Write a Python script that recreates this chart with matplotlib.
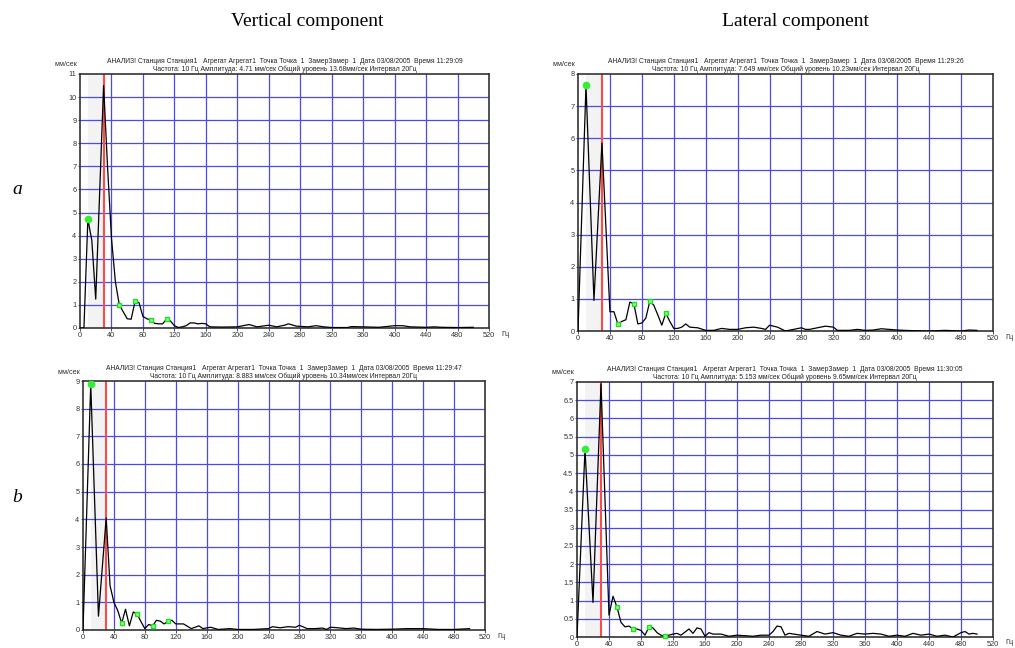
import matplotlib
matplotlib.use('Agg')
import matplotlib.pyplot as plt


# Header lines for each panel (top-left, top-right, bottom-left, bottom-right)
headers = [
    ('АНАЛИЗ! Станция Станция1   Агрегат Агрегат1  Точка Точка  1  ЗамерЗамер  1  Дата 03/08/2005  Время 11:29:09',
     'Частота: 10 Гц Амплитуда: 4.71 мм/сек Общий уровень 13.68мм/сек Интервал 20Гц'),
    ('АНАЛИЗ! Станция Станция1   Агрегат Агрегат1  Точка Точка  1  ЗамерЗамер  1  Дата 03/08/2005  Время 11:29:26',
     'Частота: 10 Гц Амплитуда: 7.649 мм/сек Общий уровень 10.23мм/сек Интервал 20Гц'),
    ('АНАЛИЗ! Станция Станция1   Агрегат Агрегат1  Точка Точка  1  ЗамерЗамер  1  Дата 03/08/2005  Время 11:29:47',
     'Частота: 10 Гц Амплитуда: 8.883 мм/сек Общий уровень 10.34мм/сек Интервал 20Гц'),
    ('АНАЛИЗ! Станция Станция1   Агрегат Агрегат1  Точка Точка  1  ЗамерЗамер  1  Дата 03/08/2005  Время 11:30:05',
     'Частота: 10 Гц Амплитуда: 5.153 мм/сек Общий уровень 9.65мм/сек Интервал 20Гц'),
]

# spectra: frequency (Hz) and amplitude (mm/s)
freq_a_vert = [0, 5, 10, 15, 20, 30, 35, 40, 45, 50, 55, 60, 65, 70, 75, 80, 85, 90, 95, 100,
               105, 110, 115, 120, 125, 130, 135, 140, 145, 150, 155, 160, 165, 180, 200, 215,
               225, 240, 250, 260, 265, 275, 290, 300, 310, 320, 340, 345, 360, 380, 400, 410,
               420, 440, 450, 460, 480, 500]
amp_a_vert = [0, 0, 4.71, 3.8, 1.25, 10.5, 7.0, 3.9, 2.0, 1.0, 0.7, 0.4, 0.38, 1.15, 1.1, 0.5,
              0.4, 0.35, 0.2, 0.18, 0.18, 0.38, 0.3, 0.1, 0.02, 0.05, 0.1, 0.22, 0.22, 0.18,
              0.2, 0.18, 0.05, 0.04, 0.05, 0.15, 0.05, 0.12, 0.05, 0.12, 0.18, 0.08, 0.05, 0.1,
              0.05, 0.02, 0.02, 0.06, 0.05, 0.03, 0.1, 0.1, 0.05, 0.03, 0.05, 0.03, 0.02, 0.03]

freq_a_lat = [0, 10, 20, 30, 40, 45, 50, 55, 60, 65, 70, 75, 80, 85, 90, 95, 100, 105, 110, 115,
              120, 125, 130, 135, 140, 150, 160, 170, 180, 190, 200, 210, 220, 230, 235, 240,
              245, 250, 260, 270, 280, 285, 290, 300, 310, 320, 325, 340, 350, 360, 370, 380,
              390, 400, 420, 440, 460, 480, 490, 500]
amp_a_lat = [0, 7.649, 0.95, 5.85, 0.6, 0.6, 0.22, 0.3, 0.35, 0.9, 0.85, 0.22, 0.25, 0.4, 0.93,
             0.8, 0.5, 0.18, 0.55, 0.3, 0.08, 0.08, 0.12, 0.22, 0.12, 0.1, 0.02, 0.02, 0.08,
             0.05, 0.05, 0.1, 0.12, 0.08, 0.05, 0.18, 0.15, 0.12, 0.0, 0.05, 0.1, 0.05, 0.05,
             0.1, 0.15, 0.12, 0.02, 0.02, 0.05, 0.02, 0.03, 0.07, 0.05, 0.03, 0.01, 0.0, 0.02,
             0.0, 0.03, 0.02]

freq_b_vert = [0, 10, 20, 30, 35, 40, 45, 50, 55, 60, 65, 70, 75, 80, 85, 90, 95, 100, 105, 110,
               115, 120, 130, 140, 150, 155, 165, 175, 190, 200, 220, 240, 245, 255, 265, 275,
               280, 290, 300, 310, 315, 320, 330, 340, 350, 360, 380, 400, 420, 440, 460, 480,
               500]
amp_b_vert = [0, 8.883, 0.5, 4.05, 1.6, 1.0, 0.7, 0.25, 0.75, 0.15, 0.65, 0.58, 0.3, 0.05, 0.2,
              0.15, 0.35, 0.32, 0.22, 0.32, 0.35, 0.22, 0.22, 0.05, 0.15, 0.05, 0.1, 0.02,
              0.05, 0.02, 0.02, 0.05, 0.12, 0.08, 0.12, 0.1, 0.17, 0.05, 0.05, 0.07, 0.02, 0.1,
              0.08, 0.05, 0.07, 0.03, 0.02, 0.03, 0.05, 0.05, 0.02, 0.02, 0.05]

freq_b_lat = [0, 10, 20, 30, 40, 45, 50, 55, 60, 65, 70, 75, 80, 85, 90, 95, 100, 105, 110, 115,
              120, 125, 130, 140, 145, 150, 155, 160, 165, 170, 180, 190, 200, 220, 230, 240,
              245, 250, 255, 260, 265, 280, 290, 300, 310, 320, 330, 340, 350, 360, 370, 380,
              390, 400, 410, 420, 430, 440, 450, 460, 470, 480, 485, 490, 495, 500]
amp_b_lat = [0, 5.153, 0.95, 6.95, 0.6, 1.12, 0.82, 0.4, 0.28, 0.3, 0.22, 0.22, 0.18, 0.05,
             0.28, 0.25, 0.12, 0.05, 0.02, 0.05, 0.08, 0.1, 0.05, 0.22, 0.1, 0.25, 0.22, 0.02,
             0.12, 0.08, 0.08, 0.02, 0.05, 0.02, 0.05, 0.05, 0.15, 0.3, 0.28, 0.05, 0.1, 0.05,
             0.02, 0.15, 0.08, 0.12, 0.05, 0.02, 0.1, 0.08, 0.1, 0.08, 0.02, 0.05, 0.02, 0.1,
             0.05, 0.08, 0.02, 0.05, 0.0, 0.12, 0.15, 0.08, 0.1, 0.08]

# marked harmonics (green squares) and main peak (green dot)
harm_freq = [50, 70, 90, 110]
peak_freq = 10

y_max = [11, 8, 9, 7]
y_step = [1, 1, 1, 0.5]
red_freq = 30
band = (10, 30)

series = [(freq_a_vert, amp_a_vert), (freq_a_lat, amp_a_lat),
          (freq_b_vert, amp_b_vert), (freq_b_lat, amp_b_lat)]

# axes rectangles in pixels: left, top, right, bottom
W, H = 1015, 648
boxes = [(80, 74, 489, 328), (578, 74, 993, 331),
         (83, 381, 485, 630), (577, 382, 993, 637)]

plt.rcParams['font.family'] = ['Liberation Sans', 'DejaVu Sans']

fig = plt.figure(figsize=(W / 100, H / 100), dpi=100)


def fmt(v):
    return ('%d' % v) if float(v).is_integer() else ('%g' % v)


for i, (fx, fy) in enumerate(series):
    l, t, r, b = boxes[i]
    ax = fig.add_axes([l / W, 1 - b / H, (r - l) / W, (b - t) / H])
    ax.set_xlim(0, 520)
    ax.set_ylim(0, y_max[i])

    ax.axvspan(band[0], band[1], color='#f3f3f3', zorder=0, lw=0)

    yt = []
    v = 0
    while v <= y_max[i] + 1e-9:
        yt.append(v)
        v += y_step[i]
    for v in yt[1:-1]:
        ax.axhline(v, color='#4a4aee', lw=0.9, zorder=1)
    for v in range(40, 520, 40):
        ax.axvline(v, color='#4a4aee', lw=0.9, zorder=1)

    ax.axvline(red_freq, color='#ff4a4a', lw=1.5, zorder=2)
    ax.plot(fx, fy, color='black', lw=0.9, zorder=3)

    hy = [fy[fx.index(f)] for f in harm_freq]
    ax.plot(harm_freq, hy, ls='none', marker='s', ms=3.5, mfc='#8f8', mec='#22dd22',
            mew=1.0, zorder=4, clip_on=False)
    ax.plot([peak_freq], [fy[fx.index(peak_freq)]], ls='none', marker='o', ms=4.5,
            color='#33ee33', zorder=4, clip_on=False)

    ax.set_xticks(range(0, 521, 40))
    ax.set_yticks(yt)
    ax.set_yticklabels([fmt(v) for v in yt])
    ax.tick_params(labelsize=5.3, length=1.8, width=0.6, pad=0.8, colors='#333333')
    for s in ax.spines.values():
        s.set_color('#333333')
        s.set_linewidth(1.2)

    ax.annotate(headers[i][0], xy=(0.5, 1), xycoords='axes fraction', xytext=(0, 12.5),
                textcoords='offset pixels', ha='center', va='center', fontsize=4.9,
                color='#222222')
    ax.annotate(headers[i][1], xy=(0.5, 1), xycoords='axes fraction', xytext=(0, 4.8),
                textcoords='offset pixels', ha='center', va='center', fontsize=4.9,
                color='#222222')
    ax.annotate('мм/сек', xy=(0, 1), xycoords='axes fraction', xytext=(-14, 9),
                textcoords='offset pixels', ha='center', va='center', fontsize=5.3,
                color='#333333')
    ax.annotate('Гц', xy=(1, 0), xycoords='axes fraction', xytext=(16, -6),
                textcoords='offset pixels', ha='center', va='center', fontsize=5.3,
                color='#333333')

# column and row labels
fig.text(307 / W, 1 - 22 / H, 'Vertical component', ha='center', va='center',
         family='Liberation Serif', fontsize=14)
fig.text(795 / W, 1 - 22 / H, 'Lateral component', ha='center', va='center',
         family='Liberation Serif', fontsize=14)
fig.text(17 / W, 1 - 190 / H, 'a', ha='center', va='center', family='Liberation Serif',
         style='italic', fontsize=14)
fig.text(17 / W, 1 - 497 / H, 'b', ha='center', va='center', family='Liberation Serif',
         style='italic', fontsize=14)

fig.savefig('out.png', dpi=100)
